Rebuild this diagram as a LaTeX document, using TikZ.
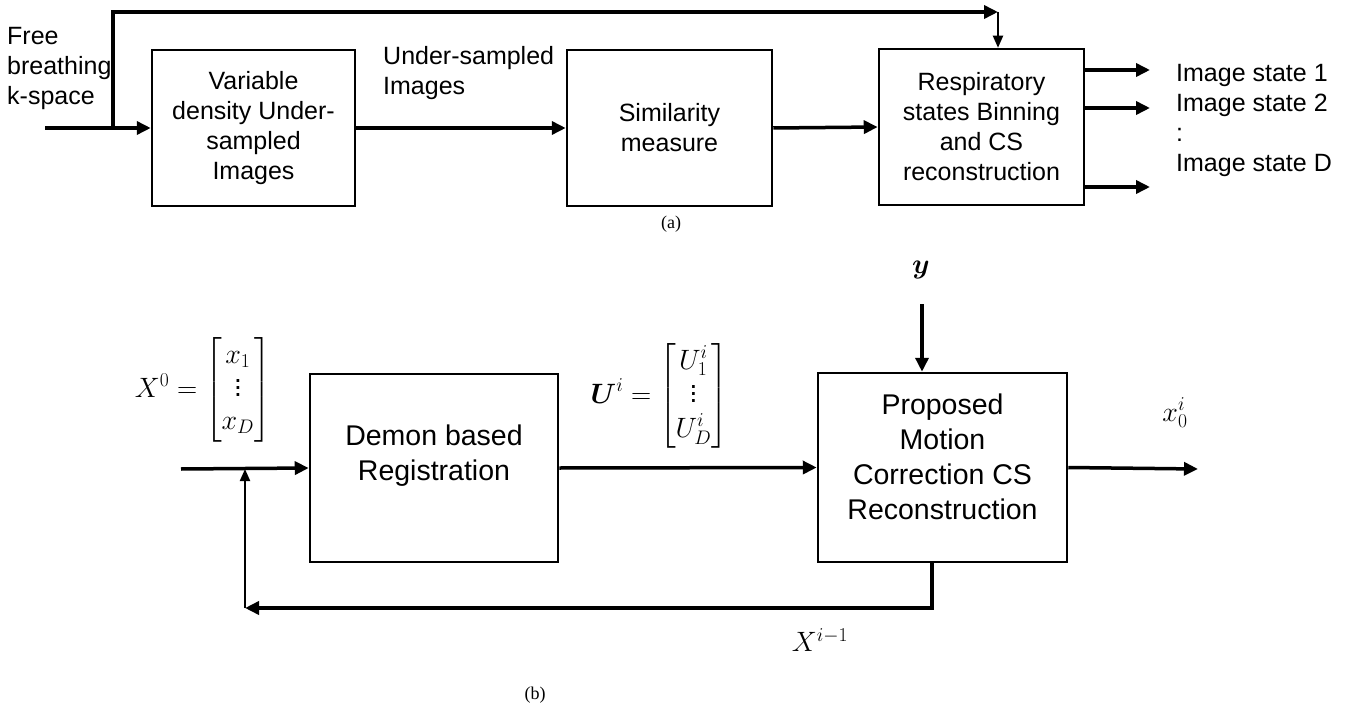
\RequirePackage{fix-cm}
\documentclass[tikz,border=0pt]{standalone}
\usepackage{amsmath}
\usepackage{fontspec}
\setmainfont{Liberation Sans}
\newfontfamily\capfont{Liberation Serif}
\usetikzlibrary{arrows.meta}
\newcommand{\tallvdots}{\vbox{\baselineskip7pt\lineskiplimit0pt\kern-2pt\hbox{.}\hbox{.}\hbox{.}}}
\begin{document}
\begin{tikzpicture}[x=1pt,y=-1pt,
  boxa/.style={draw,line width=2.5pt,inner sep=0pt,align=center,font=\fontsize{25}{30}\selectfont},
  boxb/.style={draw,line width=2.5pt,inner sep=0pt},
  lbla/.style={inner sep=0pt,align=left,font=\fontsize{25}{30}\selectfont},
  txtb/.style={inner sep=0pt,align=center,font=\fontsize{28.5}{35}\selectfont},
  mathb/.style={inner sep=0pt,font=\fontsize{28}{30}\selectfont},
  capt/.style={inner sep=0pt,font=\capfont\fontsize{18}{20}\selectfont},
  conn/.style={line width=3.5pt,-{Triangle[length=14pt,width=13pt]}},
  thinconn/.style={line width=2pt,-{Triangle[length=12pt,width=10pt]}}]
\useasboundingbox (0,0) rectangle (1359,711);
% ---------- panel (a)
\node[boxa,minimum width=203pt,minimum height=156pt] (b1) at (253.5,128) {Variable\\density Under-\\sampled\\Images};
\node[boxa,minimum width=205pt,minimum height=156pt] (b2) at (669.5,128) {Similarity\\measure};
\node[boxa,minimum width=205pt,minimum height=156pt] (b3) at (981.5,127) {Respiratory\\states Binning\\and CS\\reconstruction};
\node[lbla,anchor=west] (free) at (7,68) {Free\\breathing\\k-space};
\node[lbla,anchor=west] (us) at (383,73) {Under-sampled\\Images};
\node[lbla,anchor=west] (states) at (1176,120) {Image state 1\\Image state 2\\:\\Image state D};
\coordinate (in) at (45,128);
\coordinate (br) at (113,128);
\coordinate (tc) at (998,12);
\coordinate (o1) at (1150,70);
\coordinate (o2) at (1150,108);
\coordinate (o3) at (1150,187);
\draw[conn] (in) -- (b1.west);
\draw[conn] (br) |- (tc);
\draw[thinconn] (tc) -- (b3.north -| tc);
\draw[conn] (b1.east) -- (b2.west);
\draw[conn] (b2.east) -- (b3.west);
\draw[conn] (b3.east |- o1) -- (o1);
\draw[conn] (b3.east |- o2) -- (o2);
\draw[conn] (b3.east |- o3) -- (o3);
\node[capt] (ca) at (671,224) {(a)};
% ---------- panel (b)
\node[boxb,minimum width=248pt,minimum height=188pt] (dem) at (434,468) {};
\node[txtb] (demt) at (434,456) {Demon based\\Registration};
\node[boxb,minimum width=249pt,minimum height=189pt] (pm) at (942.5,467.5) {};
\node[txtb] (pmt) at (942.5,457) {Proposed\\Motion\\Correction CS\\Reconstruction};
\node[mathb,anchor=east] (x0) at (271,390) {$X^0 = \begin{bmatrix}x_1\\[3pt] \tallvdots\\[3pt] x_D\end{bmatrix}$};
\node[mathb,anchor=east] (ui) at (728,396) {$\boldsymbol{U}^i = \begin{bmatrix}U_1^i\\[3pt] \tallvdots\\[3pt] U_D^i\end{bmatrix}$};
\node[mathb] (x0i) at (1175,413) {$x_0^i$};
\node[mathb] (xim) at (820,640) {$X^{i-1}$};
\node[mathb] (yl) at (921,270) {$\boldsymbol{y}$};
\coordinate (bin) at (181,469);
\coordinate (out) at (1198,469);
\coordinate (ytop) at (922,304);
\coordinate (fbr) at (932,608);
\coordinate (fbl) at (245,608);
\coordinate (fbj) at (245,469);
\draw[conn] (bin) -- (dem.west);
\draw[conn] (dem.east) -- (pm.west);
\draw[conn] (pm.east) -- (out);
\draw[conn] (ytop) -- (pm.north -| ytop);
\draw[conn] (pm.south -| fbr) -- (fbr) -- (fbl);
\draw[thinconn] (fbl) -- (fbj);
\node[capt] (cb) at (535,695) {(b)};
\end{tikzpicture}
\end{document}
